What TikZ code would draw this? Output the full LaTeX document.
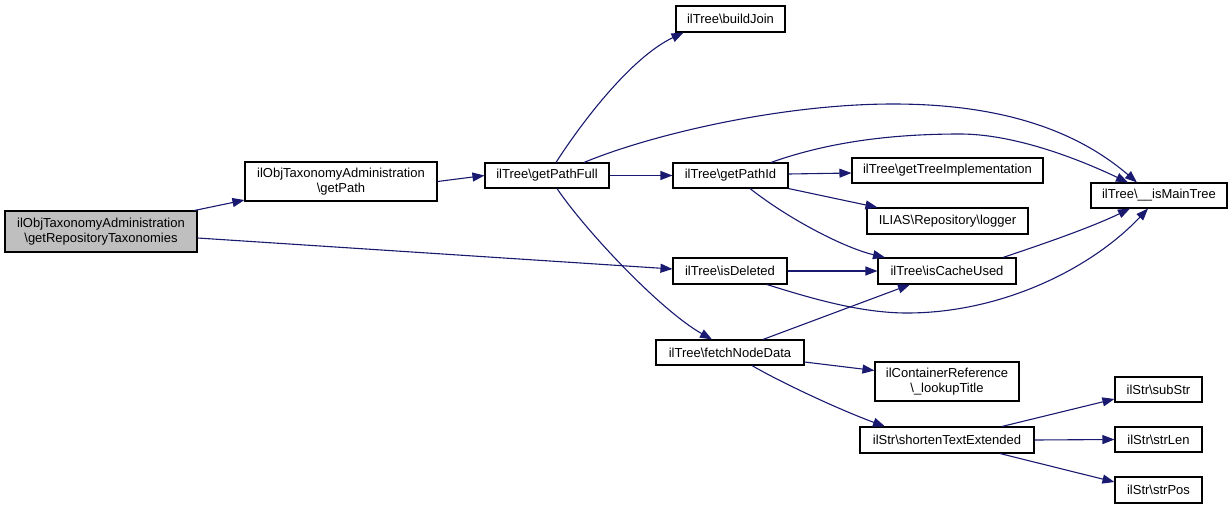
\documentclass[tikz,border=0pt]{standalone}
\usepackage{fontspec}
\setmainfont{Liberation Sans}
\usetikzlibrary{arrows.meta}
\definecolor{edgecol}{HTML}{191970}
\definecolor{rootfill}{HTML}{BFBFBF}
\begin{document}
\begin{tikzpicture}[x=1pt,y=-1pt,
  box/.style={draw=black, line width=1.1pt, inner sep=0pt, align=center,
    font=\fontsize{13}{14.5}\selectfont},
  edge/.style={draw=edgecol, line width=1.1pt, -{Triangle[length=12pt,width=9pt]}}]
\useasboundingbox (0,0) rectangle (1232,509);

\node[box, fill=rootfill, minimum width=192, minimum height=41] (root) at (101,231.5)
  {ilObjTaxonomyAdministration\\\textbackslash getRepositoryTaxonomies};
\node[box, minimum width=192, minimum height=39] (getPath) at (341,181.5)
  {ilObjTaxonomyAdministration\\\textbackslash getPath};
\node[box, minimum width=124, minimum height=25] (getPathFull) at (547,175.5)
  {ilTree\textbackslash getPathFull};
\node[box, minimum width=109, minimum height=26] (buildJoin) at (730.5,19)
  {ilTree\textbackslash buildJoin};
\node[box, minimum width=115, minimum height=25] (getPathId) at (730.5,175.5)
  {ilTree\textbackslash getPathId};
\node[box, minimum width=191, minimum height=25] (getTreeImpl) at (947.5,170.5)
  {ilTree\textbackslash getTreeImplementation};
\node[box, minimum width=161, minimum height=26] (logger) at (947.5,221)
  {ILIAS\textbackslash Repository\textbackslash logger};
\node[box, minimum width=114, minimum height=26] (isDeleted) at (730,271)
  {ilTree\textbackslash isDeleted};
\node[box, minimum width=138, minimum height=26] (isCacheUsed) at (947,271)
  {ilTree\textbackslash isCacheUsed};
\node[box, minimum width=136, minimum height=25] (isMainTree) at (1159,195.5)
  {ilTree\textbackslash \_\_isMainTree};
\node[box, minimum width=148, minimum height=25] (fetchNodeData) at (730,352.5)
  {ilTree\textbackslash fetchNodeData};
\node[box, minimum width=144, minimum height=39] (lookupTitle) at (947,381.5)
  {ilContainerReference\\\textbackslash \_lookupTitle};
\node[box, minimum width=174, minimum height=26] (shorten) at (947,440)
  {ilStr\textbackslash shortenTextExtended};
\node[box, minimum width=87, minimum height=25] (subStr) at (1158.5,389.5)
  {ilStr\textbackslash subStr};
\node[box, minimum width=87, minimum height=25] (strLen) at (1158.5,439.5)
  {ilStr\textbackslash strLen};
\node[box, minimum width=87, minimum height=26] (strPos) at (1158.5,490)
  {ilStr\textbackslash strPos};

\draw[edge] ([xshift=-3]root.north east) -- ([yshift=1.5]getPath.south west);
\draw[edge] ([yshift=-6.5]root.east) -- ([yshift=2]isDeleted.west);
\draw[edge] (getPath.east) -- (getPathFull.west);
\draw[edge] ([xshift=9]getPathFull.north) .. controls (580,125) and (630,58) .. ([xshift=-47]buildJoin.south);
\draw[edge] ([xshift=37]getPathFull.north) .. controls (650,135) and (780,104) .. (893,104)
  .. controls (990,104) and (1070,125) .. ([xshift=-22]isMainTree.north);
\draw[edge] (getPathFull.east) -- (getPathId.west);
\draw[edge] ([xshift=10]getPathFull.south) .. controls (585,230) and (660,310) .. ([xshift=-18]fetchNodeData.north);
\draw[edge] ([yshift=1.5]getPathId.east) -- ([yshift=-2.5]getTreeImpl.west);
\draw[edge] (getPathId.south east) -- ([xshift=11]logger.north west);
\draw[edge] ([xshift=19.5]getPathId.south) .. controls (790,220) and (845,248) .. ([xshift=-62]isCacheUsed.north);
\draw[edge] ([xshift=40.5]getPathId.north) .. controls (820,145) and (880,134) .. (960,134)
  .. controls (1010,134) and (1070,155) .. ([xshift=-31]isMainTree.north);
\draw[edge] (isDeleted.east) -- (isCacheUsed.west);
\draw[edge] ([xshift=37]isDeleted.south) .. controls (810,298) and (860,313) .. (907,313)
  .. controls (1000,313) and (1090,270) .. ([xshift=-11]isMainTree.south);
\draw[edge] ([xshift=56]isCacheUsed.north) .. controls (1040,245) and (1090,228) .. ([xshift=-29]isMainTree.south);
\draw[edge] ([xshift=33]fetchNodeData.north) -- ([xshift=-37]isCacheUsed.south);
\draw[edge] ([yshift=-9.5]fetchNodeData.east) -- ([yshift=11]lookupTitle.west);
\draw[edge] ([xshift=22]fetchNodeData.south) .. controls (780,382) and (840,410) .. ([xshift=-62]shorten.north);
\draw[edge] ([xshift=55]shorten.north) -- ([yshift=-9.5]subStr.west);
\draw[edge] (shorten.east) -- (strLen.west);
\draw[edge] ([xshift=53]shorten.south) -- ([yshift=8]strPos.west);
\end{tikzpicture}
\end{document}
